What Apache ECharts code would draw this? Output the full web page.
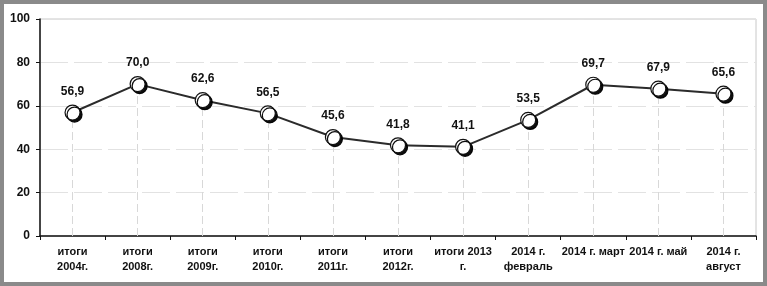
<!DOCTYPE html>
<html>
<head>
<meta charset="utf-8">
<script src="https://cdn.jsdelivr.net/npm/echarts@6/dist/echarts.min.js"></script>
<style>
  html, body { margin: 0; padding: 0; background: #fff; }
  .frame {
    width: 767px;
    height: 286px;
    box-sizing: border-box;
    border: 4px solid #8a8a8a;
    position: relative;
  }
  #chart { position: absolute; left: -4px; top: -4px; width: 767px; height: 286px; }
</style>
</head>
<body>
<div class="frame"><div id="chart"></div></div>
<script>
const categories = [
  'итоги\n2004г.', 'итоги\n2008г.', 'итоги\n2009г.', 'итоги\n2010г.', 'итоги\n2011г.',
  'итоги\n2012г.', 'итоги 2013\nг.', '2014 г.\nфевраль', '2014 г. март', '2014 г. май', '2014 г.\nавгуст'
]
const values = [56.9, 70.0, 62.6, 56.5, 45.6, 41.8, 41.1, 53.5, 69.7, 67.9, 65.6]

const font = '"Liberation Sans", Arial, sans-serif'
const chart = echarts.init(document.getElementById('chart'))

// drop lines from each point down to the x axis
const dropLines = categories.map((c, i) => [
  { xAxis: c, yAxis: 0 },
  { xAxis: c, yAxis: values[i] }
])

chart.setOption({
  animation: false,
  grid: { left: 40, right: 11, top: 19, bottom: 50, show: true, borderColor: '#c8c8c8', borderWidth: 1 },
  xAxis: {
    type: 'category',
    data: categories,
    boundaryGap: true,
    axisLine: { lineStyle: { color: '#111', width: 1.5 } },
    axisTick: { show: true, length: 4, inside: false, lineStyle: { color: '#111' } },
    axisLabel: {
      interval: 0, color: '#111', fontFamily: font, fontWeight: 'bold', fontSize: 11,
      lineHeight: 15, margin: 8
    },
    splitLine: { show: false }
  },
  yAxis: {
    type: 'value',
    min: 0, max: 100, interval: 20,
    axisLine: { show: true, lineStyle: { color: '#111', width: 1.5 } },
    axisTick: { show: true, length: 4, lineStyle: { color: '#111' } },
    axisLabel: { color: '#111', fontFamily: font, fontWeight: 'bold', fontSize: 12, margin: 10 },
    splitLine: { show: true, lineStyle: { color: '#e2e2e2', type: [28, 6] } }
  },
  series: [{
    type: 'line',
    data: values,
    symbol: 'circle',
    symbolSize: 15,
    z: 3,
    lineStyle: { color: '#2b2b2b', width: 2 },
    itemStyle: {
      color: '#fff', borderColor: '#111', borderWidth: 1.2,
      shadowColor: 'rgba(0,0,0,0.95)', shadowOffsetX: 2, shadowOffsetY: 2, shadowBlur: 0
    },
    label: {
      show: true, position: 'top', distance: 7,
      color: '#111', fontFamily: font, fontWeight: 'bold', fontSize: 12,
      formatter: p => p.value.toFixed(1).replace('.', ',')
    },
    markLine: {
      silent: true,
      symbol: 'none',
      label: { show: false },
      z: 1,
      lineStyle: { color: '#d8d8d8', type: [8, 4], width: 1 },
      data: dropLines
    }
  }]
})
</script>
</body>
</html>
